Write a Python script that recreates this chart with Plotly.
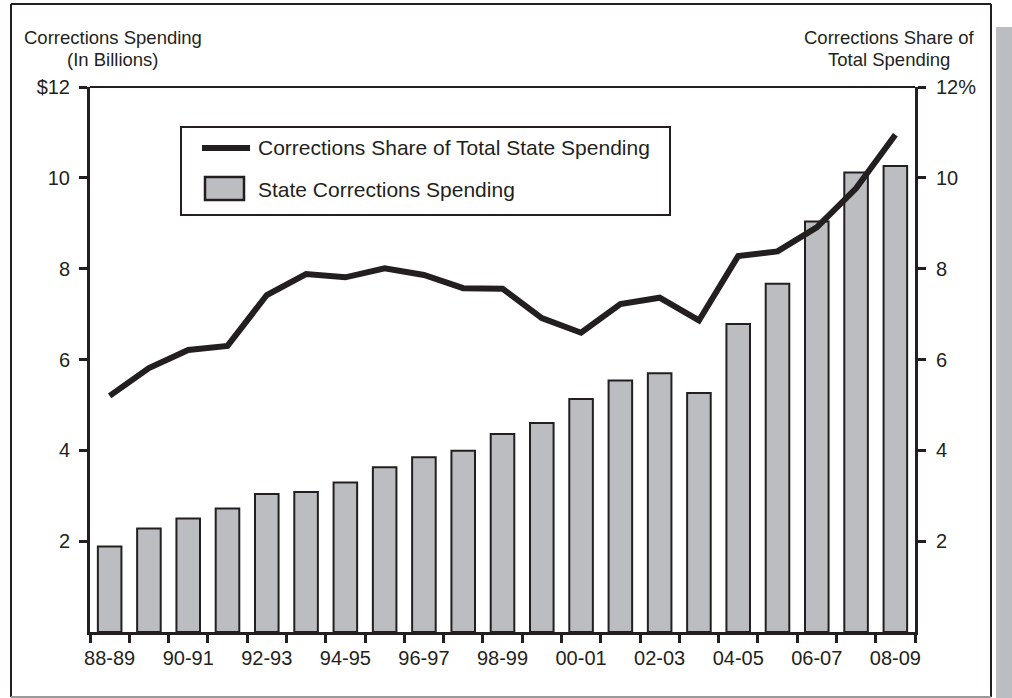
import plotly.graph_objects as go

# ---- data ----
years = ["88-89", "89-90", "90-91", "91-92", "92-93", "93-94", "94-95", "95-96",
         "96-97", "97-98", "98-99", "99-00", "00-01", "01-02", "02-03", "03-04",
         "04-05", "05-06", "06-07", "07-08", "08-09"]
spending_billions = [1.88, 2.28, 2.50, 2.72, 3.04, 3.08, 3.29, 3.63, 3.85, 3.99,
                     4.36, 4.60, 5.13, 5.54, 5.70, 5.26, 6.78, 7.67, 9.04, 10.12, 10.26]
share_pct = [5.20, 5.81, 6.21, 6.30, 7.42, 7.88, 7.81, 8.01, 7.86, 7.57,
             7.56, 6.91, 6.59, 7.22, 7.36, 6.86, 8.28, 8.38, 8.91, 9.77, 10.95]
left_tickvals = [2, 4, 6, 8, 10, 12]
left_ticktext = ["2", "4", "6", "8", "10", "$12"]
right_tickvals = [2, 4, 6, 8, 10, 12]
right_ticktext = ["2", "4", "6", "8", "10", "12%"]
x_ticktext = [y if i % 2 == 0 else "" for i, y in enumerate(years)]

INK = "#231f20"
GRAY = "#bcbdc1"
FONT = "Liberation Sans, Arial, Helvetica, sans-serif"

W, H = 1012, 698
L, R, T, B = 90, 915, 87, 632


def px(xp):
    return (xp - L) / (R - L)


def py(yp):
    return (B - yp) / (B - T)


fig = go.Figure()
fig.add_trace(go.Bar(
    x=years, y=spending_billions, name="State Corrections Spending",
    marker=dict(color=GRAY, line=dict(color=INK, width=2)),
    width=0.6, yaxis="y", showlegend=False,
))
fig.add_trace(go.Scatter(
    x=years, y=share_pct, name="Corrections Share of Total State Spending",
    mode="lines", line=dict(color=INK, width=6), yaxis="y2", showlegend=False,
))

shapes = []
# top border of plot
shapes.append(dict(type="line", xref="paper", yref="paper", x0=0, x1=1, y0=1, y1=1,
                   line=dict(color=INK, width=2)))
# outer frame
shapes.append(dict(type="line", xref="paper", yref="paper", x0=px(11), x1=px(11),
                   y0=py(4), y1=py(697), line=dict(color=INK, width=2)))
shapes.append(dict(type="line", xref="paper", yref="paper", x0=px(11), x1=px(991),
                   y0=py(4), y1=py(4), line=dict(color=INK, width=2)))
shapes.append(dict(type="line", xref="paper", yref="paper", x0=px(991), x1=px(991),
                   y0=py(4), y1=py(697), line=dict(color=INK, width=2)))
shapes.append(dict(type="line", xref="paper", yref="paper", x0=px(11), x1=px(991),
                   y0=py(697), y1=py(697), line=dict(color="#9a9a9a", width=2)))
# shadow band
shapes.append(dict(type="rect", xref="paper", yref="paper", x0=px(996), x1=px(1014),
                   y0=py(27), y1=py(700), fillcolor=GRAY, line=dict(width=0)))
# legend box
shapes.append(dict(type="rect", xref="paper", yref="paper", x0=px(181), x1=px(670),
                   y0=py(127), y1=py(215), fillcolor="white", line=dict(color=INK, width=2)))
shapes.append(dict(type="line", xref="paper", yref="paper", x0=px(202), x1=px(250),
                   y0=py(148), y1=py(148), line=dict(color=INK, width=6)))
shapes.append(dict(type="rect", xref="paper", yref="paper", x0=px(205), x1=px(244),
                   y0=py(177), y1=py(200), fillcolor=GRAY, line=dict(color=INK, width=2.5)))

ann = []
def text(t, x, y, size, xanchor="center"):
    ann.append(dict(text=t, xref="paper", yref="paper", x=px(x), y=py(y),
                    xanchor=xanchor, yanchor="middle", showarrow=False,
                    font=dict(family=FONT, size=size, color=INK)))

text("Corrections Spending", 113, 37, 18.5)
text("(In Billions)", 113, 59, 18.5)
text("Corrections Share of", 889, 37, 18.5)
text("Total Spending", 889, 59, 18.5)
text("Corrections Share of Total State Spending", 256, 148, 21, "left")
text("State Corrections Spending", 256, 189, 21, "left")

fig.update_layout(
    width=W, height=H,
    margin=dict(l=L, r=W - R, t=T, b=H - B),
    paper_bgcolor="white", plot_bgcolor="white",
    font=dict(family=FONT, size=20, color=INK),
    showlegend=False,
    shapes=shapes,
    annotations=ann,
    xaxis=dict(
        type="category", range=[-0.5, len(years) - 0.5],
        tickmode="array", tickvals=years, ticktext=x_ticktext, tickangle=0,
        tickson="boundaries", ticks="outside", ticklen=8, tickwidth=2.5, tickcolor=INK,
        showline=True, linewidth=3, linecolor=INK, showgrid=False, zeroline=False,
        tickfont=dict(size=20, family=FONT, color=INK), ticklabelstandoff=6,
    ),
    yaxis=dict(
        range=[0, 12], tickmode="array", tickvals=left_tickvals, ticktext=left_ticktext,
        ticks="outside", ticklen=8, tickwidth=2.5, tickcolor=INK,
        showline=True, linewidth=3, linecolor=INK, showgrid=False, zeroline=False,
        tickfont=dict(size=20, family=FONT, color=INK), ticklabelstandoff=5,
    ),
    yaxis2=dict(
        range=[0, 12], overlaying="y", side="right", anchor="x",
        tickmode="array", tickvals=right_tickvals, ticktext=right_ticktext,
        ticks="outside", ticklen=8, tickwidth=2.5, tickcolor=INK,
        showline=True, linewidth=3, linecolor=INK, showgrid=False, zeroline=False,
        tickfont=dict(size=20, family=FONT, color=INK), ticklabelstandoff=6,
    ),
)

fig.write_html("out.html", config={"displayModeBar": False},
               post_script="document.body.style.margin='0';document.body.style.overflow='hidden';")
